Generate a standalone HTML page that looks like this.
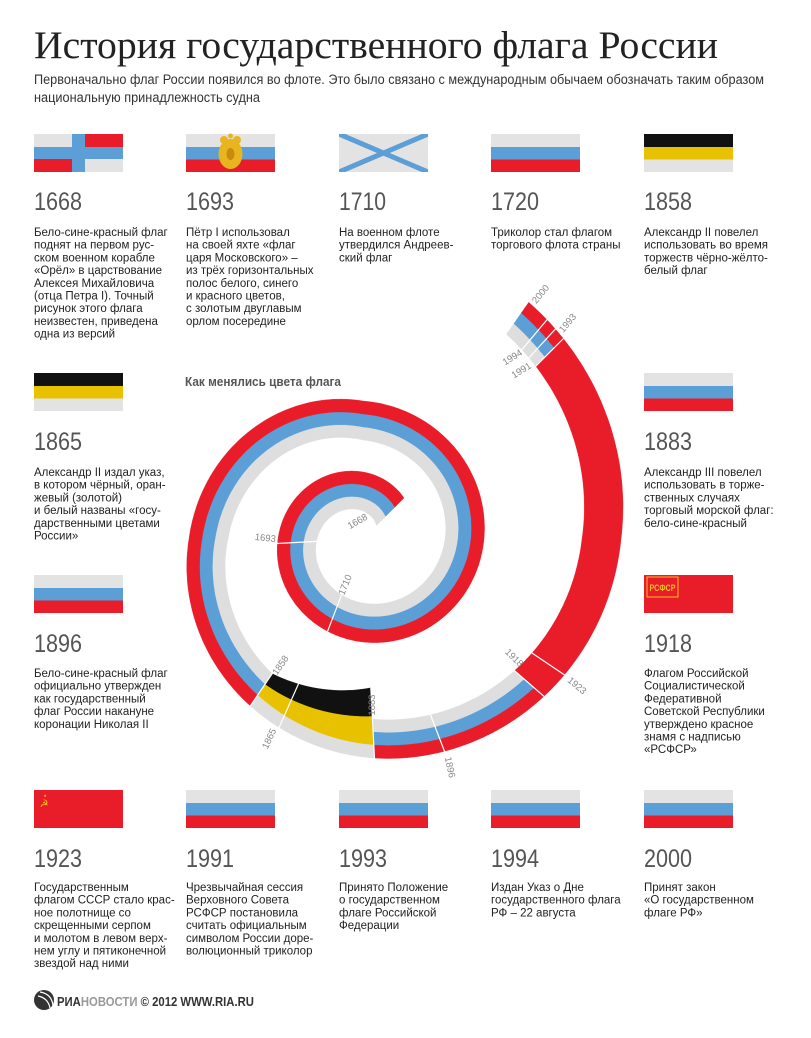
<!DOCTYPE html>
<html><head><meta charset="utf-8">
<style>
html,body{margin:0;padding:0;background:#fff;}
svg{display:block;}
.t{font-family:"Liberation Serif","Noto Serif CJK SC",serif;fill:#222;}
.s{font-family:"Liberation Sans","Noto Sans CJK SC",sans-serif;fill:#333;font-size:13.5px;}
.y{font-family:"Liberation Sans","Noto Sans CJK SC",sans-serif;fill:#555;font-size:25px;}
.d{font-family:"Liberation Sans","Noto Sans CJK SC",sans-serif;fill:#222;font-size:11.5px;}
.l{font-family:"Liberation Sans",sans-serif;fill:#888;font-size:9.5px;}
</style></head>
<body>
<svg id="S" width="811" height="1038" viewBox="0 0 811 1038" xmlns="http://www.w3.org/2000/svg">
<defs><clipPath id="c1"><rect width="89" height="38"/></clipPath></defs>
<rect width="811" height="1038" fill="#fff"/>
<text class="t" x="34" y="58" font-size="39" textLength="684" lengthAdjust="spacingAndGlyphs">История государственного флага России</text>
<text class="s" x="34" y="84" textLength="730" lengthAdjust="spacingAndGlyphs">Первоначально флаг России появился во флоте. Это было связано с международным обычаем обозначать таким образом</text>
<text class="s" x="34" y="102" textLength="226" lengthAdjust="spacingAndGlyphs">национальную принадлежность судна</text>

<!-- Row 1 flags -->
<g transform="translate(34,134)">
<rect width="89" height="38" fill="#e3e3e3"/>
<rect x="51" width="38" height="13" fill="#e91d2a"/>
<rect y="25" width="38" height="13" fill="#e91d2a"/>
<rect y="13" width="89" height="12" fill="#5b9fd6"/>
<rect x="38" width="13" height="38" fill="#5b9fd6"/>
</g>
<g transform="translate(186,134)">
<rect width="89" height="13" fill="#e3e3e3"/><rect y="13" width="89" height="12.5" fill="#5b9fd6"/><rect y="25.5" width="89" height="12.5" fill="#e91d2a"/>
<ellipse cx="44.5" cy="20" rx="12" ry="15" fill="#e8b420"/>
<circle cx="38" cy="6" r="4" fill="#e8b420"/><circle cx="51" cy="6" r="4" fill="#e8b420"/>
<circle cx="44.5" cy="2" r="2.5" fill="#e8b420"/>
<ellipse cx="44.5" cy="20" rx="4" ry="6" fill="#c98a10"/>
</g>
<g transform="translate(339,134)" clip-path="url(#c1)">
<rect width="89" height="38" fill="#e3e3e3"/>
<line x1="0" y1="0" x2="89" y2="38" stroke="#5b9fd6" stroke-width="5"/>
<line x1="89" y1="0" x2="0" y2="38" stroke="#5b9fd6" stroke-width="5"/>
</g>
<g transform="translate(491,134)">
<rect width="89" height="13" fill="#e3e3e3"/><rect y="13" width="89" height="12.5" fill="#5b9fd6"/><rect y="25.5" width="89" height="12.5" fill="#e91d2a"/>
</g>
<g transform="translate(644,134)">
<rect width="89" height="13" fill="#111"/><rect y="13" width="89" height="12.5" fill="#e8c200"/><rect y="25.5" width="89" height="12.5" fill="#e3e3e3"/>
</g>

<text class="y" x="34" y="210" textLength="48" lengthAdjust="spacingAndGlyphs">1668</text>
<text class="y" x="186" y="210" textLength="48" lengthAdjust="spacingAndGlyphs">1693</text>
<text class="y" x="339" y="210" textLength="47" lengthAdjust="spacingAndGlyphs">1710</text>
<text class="y" x="491" y="210" textLength="48" lengthAdjust="spacingAndGlyphs">1720</text>
<text class="y" x="644" y="210" textLength="48" lengthAdjust="spacingAndGlyphs">1858</text>

<text class="d" y="236"><tspan x="34">Бело-сине-красный флаг</tspan><tspan x="34" dy="12.7">поднят на первом рус-</tspan><tspan x="34" dy="12.7">ском военном корабле</tspan><tspan x="34" dy="12.7">«Орёл» в царствование</tspan><tspan x="34" dy="12.7">Алексея Михайловича</tspan><tspan x="34" dy="12.7">(отца Петра I). Точный</tspan><tspan x="34" dy="12.7">рисунок этого флага</tspan><tspan x="34" dy="12.7">неизвестен, приведена</tspan><tspan x="34" dy="12.7">одна из версий</tspan></text>
<text class="d" y="236"><tspan x="186">Пётр I использовал</tspan><tspan x="186" dy="12.7">на своей яхте «флаг</tspan><tspan x="186" dy="12.7">царя Московского» –</tspan><tspan x="186" dy="12.7">из трёх горизонтальных</tspan><tspan x="186" dy="12.7">полос белого, синего</tspan><tspan x="186" dy="12.7">и красного цветов,</tspan><tspan x="186" dy="12.7">с золотым двуглавым</tspan><tspan x="186" dy="12.7">орлом посередине</tspan></text>
<text class="d" y="236"><tspan x="339">На военном флоте</tspan><tspan x="339" dy="12.7">утвердился Андреев-</tspan><tspan x="339" dy="12.7">ский флаг</tspan></text>
<text class="d" y="236"><tspan x="491">Триколор стал флагом</tspan><tspan x="491" dy="12.7">торгового флота страны</tspan></text>
<text class="d" y="236"><tspan x="644">Александр II повелел</tspan><tspan x="644" dy="12.7">использовать во время</tspan><tspan x="644" dy="12.7">торжеств чёрно-жёлто-</tspan><tspan x="644" dy="12.7">белый флаг</tspan></text>

<!-- Row 2 -->
<g transform="translate(34,373)">
<rect width="89" height="13" fill="#111"/><rect y="13" width="89" height="12.5" fill="#e8c200"/><rect y="25.5" width="89" height="12.5" fill="#e3e3e3"/>
</g>
<g transform="translate(644,373)">
<rect width="89" height="13" fill="#e3e3e3"/><rect y="13" width="89" height="12.5" fill="#5b9fd6"/><rect y="25.5" width="89" height="12.5" fill="#e91d2a"/>
</g>
<text class="y" x="34" y="450" textLength="48" lengthAdjust="spacingAndGlyphs">1865</text>
<text class="y" x="644" y="450" textLength="48" lengthAdjust="spacingAndGlyphs">1883</text>
<text class="d" y="476"><tspan x="34">Александр II издал указ,</tspan><tspan x="34" dy="12.7">в котором чёрный, оран-</tspan><tspan x="34" dy="12.7">жевый (золотой)</tspan><tspan x="34" dy="12.7">и белый названы «госу-</tspan><tspan x="34" dy="12.7">дарственными цветами</tspan><tspan x="34" dy="12.7">России»</tspan></text>
<text class="d" y="476"><tspan x="644">Александр III повелел</tspan><tspan x="644" dy="12.7">использовать в торже-</tspan><tspan x="644" dy="12.7">ственных случаях</tspan><tspan x="644" dy="12.7">торговый морской флаг:</tspan><tspan x="644" dy="12.7">бело-сине-красный</tspan></text>

<!-- Row 3 -->
<g transform="translate(34,575)">
<rect width="89" height="13" fill="#e3e3e3"/><rect y="13" width="89" height="12.5" fill="#5b9fd6"/><rect y="25.5" width="89" height="12.5" fill="#e91d2a"/>
</g>
<g transform="translate(644,575)">
<rect width="89" height="38" fill="#e91d2a"/>
<rect x="3" y="2" width="31" height="20" fill="none" stroke="#f0c020" stroke-width="1"/>
<text x="18.5" y="16" text-anchor="middle" font-family="Liberation Sans,sans-serif" font-size="9" font-weight="bold" fill="#f0c020" textLength="26" lengthAdjust="spacingAndGlyphs">РСФСР</text>
</g>
<text class="y" x="34" y="652" textLength="48" lengthAdjust="spacingAndGlyphs">1896</text>
<text class="y" x="644" y="652" textLength="48" lengthAdjust="spacingAndGlyphs">1918</text>
<text class="d" y="677"><tspan x="34">Бело-сине-красный флаг</tspan><tspan x="34" dy="12.7">официально утвержден</tspan><tspan x="34" dy="12.7">как государственный</tspan><tspan x="34" dy="12.7">флаг России накануне</tspan><tspan x="34" dy="12.7">коронации Николая II</tspan></text>
<text class="d" y="677"><tspan x="644">Флагом Российской</tspan><tspan x="644" dy="12.7">Социалистической</tspan><tspan x="644" dy="12.7">Федеративной</tspan><tspan x="644" dy="12.7">Советской Республики</tspan><tspan x="644" dy="12.7">утверждено красное</tspan><tspan x="644" dy="12.7">знамя с надписью</tspan><tspan x="644" dy="12.7">«РСФСР»</tspan></text>

<!-- Row 4 -->
<g transform="translate(34,790)">
<rect width="89" height="38" fill="#e91d2a"/>
<text x="10" y="17" text-anchor="middle" font-family="DejaVu Sans,sans-serif" font-size="10" fill="#f0c020">☭</text>
<text x="11" y="7" text-anchor="middle" font-family="DejaVu Sans,sans-serif" font-size="4" fill="#f0c020">★</text>
</g>
<g transform="translate(186,790)">
<rect width="89" height="13" fill="#e3e3e3"/><rect y="13" width="89" height="12.5" fill="#5b9fd6"/><rect y="25.5" width="89" height="12.5" fill="#e91d2a"/>
</g>
<g transform="translate(339,790)">
<rect width="89" height="13" fill="#e3e3e3"/><rect y="13" width="89" height="12.5" fill="#5b9fd6"/><rect y="25.5" width="89" height="12.5" fill="#e91d2a"/>
</g>
<g transform="translate(491,790)">
<rect width="89" height="13" fill="#e3e3e3"/><rect y="13" width="89" height="12.5" fill="#5b9fd6"/><rect y="25.5" width="89" height="12.5" fill="#e91d2a"/>
</g>
<g transform="translate(644,790)">
<rect width="89" height="13" fill="#e3e3e3"/><rect y="13" width="89" height="12.5" fill="#5b9fd6"/><rect y="25.5" width="89" height="12.5" fill="#e91d2a"/>
</g>
<text class="y" x="34" y="867" textLength="48" lengthAdjust="spacingAndGlyphs">1923</text>
<text class="y" x="186" y="867" textLength="48" lengthAdjust="spacingAndGlyphs">1991</text>
<text class="y" x="339" y="867" textLength="48" lengthAdjust="spacingAndGlyphs">1993</text>
<text class="y" x="491" y="867" textLength="48" lengthAdjust="spacingAndGlyphs">1994</text>
<text class="y" x="644" y="867" textLength="48" lengthAdjust="spacingAndGlyphs">2000</text>
<text class="d" y="891"><tspan x="34">Государственным</tspan><tspan x="34" dy="12.7">флагом СССР стало крас-</tspan><tspan x="34" dy="12.7">ное полотнище со</tspan><tspan x="34" dy="12.7">скрещенными серпом</tspan><tspan x="34" dy="12.7">и молотом в левом верх-</tspan><tspan x="34" dy="12.7">нем углу и пятиконечной</tspan><tspan x="34" dy="12.7">звездой над ними</tspan></text>
<text class="d" y="891"><tspan x="186">Чрезвычайная сессия</tspan><tspan x="186" dy="12.7">Верховного Совета</tspan><tspan x="186" dy="12.7">РСФСР постановила</tspan><tspan x="186" dy="12.7">считать официальным</tspan><tspan x="186" dy="12.7">символом России доре-</tspan><tspan x="186" dy="12.7">волюционный триколор</tspan></text>
<text class="d" y="891"><tspan x="339">Принято Положение</tspan><tspan x="339" dy="12.7">о государственном</tspan><tspan x="339" dy="12.7">флаге Российской</tspan><tspan x="339" dy="12.7">Федерации</tspan></text>
<text class="d" y="891"><tspan x="491">Издан Указ о Дне</tspan><tspan x="491" dy="12.7">государственного флага</tspan><tspan x="491" dy="12.7">РФ – 22 августа</tspan></text>
<text class="d" y="891"><tspan x="644">Принят закон</tspan><tspan x="644" dy="12.7">«О государственном</tspan><tspan x="644" dy="12.7">флаге РФ»</tspan></text>

<!-- footer -->
<circle cx="44" cy="1000" r="10" fill="#333"/>
<path d="M40 992 Q52 994 53 1006" stroke="#fff" stroke-width="1.2" fill="none"/>
<path d="M38 996 Q48 998 50 1008" stroke="#fff" stroke-width="1.2" fill="none"/>
<text x="57" y="1006" font-family="Liberation Sans,sans-serif" font-weight="bold" font-size="13" fill="#333" textLength="197" lengthAdjust="spacingAndGlyphs">РИА<tspan fill="#999">НОВОСТИ</tspan> © 2012 WWW.RIA.RU</text>

<text x="185" y="386" font-family="Liberation Sans,sans-serif" font-weight="bold" font-size="12.5" fill="#555" textLength="156" lengthAdjust="spacingAndGlyphs">Как менялись цвета флага</text>

<g id="spiral"></g>
<g id="labels">
<text class="l" transform="translate(359,524) rotate(-30)" text-anchor="middle">1668</text>
<text class="l" transform="translate(265,541) rotate(6)" text-anchor="middle">1693</text>
<text class="l" transform="translate(348,586) rotate(-68)" text-anchor="middle">1710</text>
<text class="l" transform="translate(283,667) rotate(-55)" text-anchor="middle">1858</text>
<text class="l" transform="translate(272,740) rotate(-65)" text-anchor="middle">1865</text>
<text class="l" transform="translate(375,705) rotate(-90)" text-anchor="middle">1883</text>
<text class="l" transform="translate(447,768) rotate(78)" text-anchor="middle">1896</text>
<text class="l" transform="translate(512,660) rotate(45)" text-anchor="middle">1918</text>
<text class="l" transform="translate(575,688) rotate(40)" text-anchor="middle">1923</text>
<text class="l" transform="translate(523,373) rotate(-32)" text-anchor="middle">1991</text>
<text class="l" transform="translate(514,360) rotate(-32)" text-anchor="middle">1994</text>
<text class="l" transform="translate(570,325) rotate(-50)" text-anchor="middle">1993</text>
<text class="l" transform="translate(543,296) rotate(-50)" text-anchor="middle">2000</text>
</g>
</svg>
<script>
(function(){
var cx=363,cy=539,T=39,NS="http://www.w3.org/2000/svg";
var K=[[45,19],[90,28],[180,46],[270,64],[360,82],[450,99],[540,135],[630,179],[720,219],[775,250]];
function rin(t){for(var i=0;i<K.length-1;i++){if(t<=K[i+1][0]){var a=K[i],b=K[i+1];return a[1]+(b[1]-a[1])*(t-a[0])/(b[0]-a[0]);}}return K[K.length-1][1];}
function pt(t,r){var a=t*Math.PI/180;return [cx+r*Math.cos(a),cy-r*Math.sin(a)];}
var g=document.getElementById('spiral');
function band(t0,t1,fi,fo,col){
 var p=[],t;
 for(t=t0;t<t1;t+=1){p.push(pt(t,fi(t)));} p.push(pt(t1,fi(t1)));
 for(t=t1;t>t0;t-=1){p.push(pt(t,fo(t)));} p.push(pt(t0,fo(t0)));
 var e=document.createElementNS(NS,'polygon');
 e.setAttribute('points',p.map(function(q){return q[0].toFixed(1)+','+q[1].toFixed(1);}).join(' '));
 e.setAttribute('fill',col);e.setAttribute('stroke',col);e.setAttribute('stroke-width','0.4');
 g.appendChild(e);
}
function off(d){return function(t){return rin(t)+d;};}
function tri(a,b){band(a,b,off(0),off(13),'#dedede');band(a,b,off(13),off(26),'#5b9fd6');band(a,b,off(26),off(39),'#e91d2a');}
var gr='#dedede';
tri(45,596);
function impIn(t){var r0=rin(596),r1=149;return r0+(r1-r0)*(t-596)/(633-596);}
function impMid1(t){var i=impIn(t),o=rin(t)+26;return i+(o-i)/2;}
band(596,633,impIn,impMid1,'#111');
band(596,633,impMid1,off(26),'#e8c200');
band(596,633,off(26),off(39),gr);
tri(633,679);
band(679,765,off(0),off(39),'#e91d2a');
tri(765,775);
function cut(t,a,b,col){var p=pt(t,rin(t)+a),q=pt(t,rin(t)+b);var l=document.createElementNS(NS,'line');
 l.setAttribute('x1',p[0]);l.setAttribute('y1',p[1]);l.setAttribute('x2',q[0]);l.setAttribute('y2',q[1]);
 l.setAttribute('stroke',col||'#fff');l.setAttribute('stroke-width','1.2');g.appendChild(l);}
cut(183,-3,42);cut(249,-3,42);cut(606,-30,42);cut(633,-32,42);cut(651,-3,42);cut(679,-3,42);cut(686,-3,42);
cut(765,-3,42);cut(767.5,-3,42);cut(770,-3,42);
cut(596,-3,42);
})();
</script>
</body></html>
